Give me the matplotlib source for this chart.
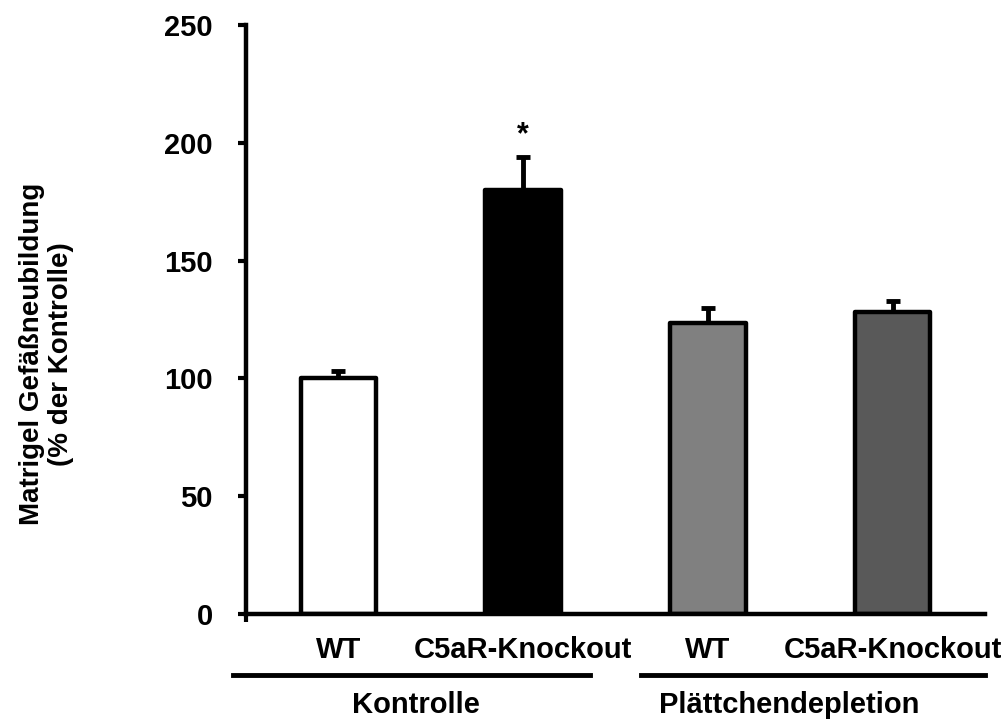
import numpy as np
import matplotlib
matplotlib.use("Agg")
import matplotlib.pyplot as plt
from matplotlib.transforms import blended_transform_factory
from matplotlib.lines import Line2D

plt.rcParams['font.family'] = ['Liberation Sans', 'DejaVu Sans']
plt.rcParams['font.weight'] = 'bold'

categories = ["WT", "C5aR-Knockout", "WT", "C5aR-Knockout"]
values = [100, 180, 123.5, 128]
errors = [3, 14, 6.5, 5]
colors = ["#ffffff", "#000000", "#808080", "#595959"]
groups = ["Kontrolle", "Plättchendepletion"]
group_spans = [(-0.57, 1.36), (1.64, 3.5)]
group_label_x = [0.42, 2.44]
yticks = [0, 50, 100, 150, 200, 250]

fig = plt.figure(figsize=(10.08, 7.2), dpi=100)
ax = fig.add_axes([246/1008, 1-614/720, (985-246)/1008, (614-25)/720])

x = np.arange(len(values))
ax.bar(x, values, width=0.41, color=colors, edgecolor="black", linewidth=3.2,
       joinstyle="round", zorder=2)
ax.errorbar(x, values, yerr=[np.zeros(len(errors)), errors], fmt="none",
            ecolor="black", elinewidth=3.5, capsize=5, capthick=3.5, zorder=1)

ax.text(x[1], values[1] + errors[1] + 3, "*", ha="center", va="bottom", fontsize=22)

ax.set_xlim(-0.5, 3.5)
ax.set_ylim(0, 250)
ax.set_yticks(yticks)
ax.set_xticks([-0.5])
ax.set_xticklabels([""])
ax.tick_params(axis="y", direction="out", length=6, width=3, labelsize=21, pad=18)
ax.tick_params(axis="x", direction="out", length=6, width=3)
for s in ["top", "right"]:
    ax.spines[s].set_visible(False)
for s in ["left", "bottom"]:
    ax.spines[s].set_linewidth(3.2)

tr = blended_transform_factory(ax.transData, fig.transFigure)
for xi, lab in zip(x, categories):
    ax.text(xi, 1-650/720, lab, transform=tr, ha="center", va="center", fontsize=21)
for (a, b), gx, g in zip(group_spans, group_label_x, groups):
    fig.add_artist(Line2D([a, b], [1-675/720, 1-675/720], transform=tr,
                          color="black", linewidth=3.5))
    ax.text(gx, 1-705/720, g, transform=tr, ha="center", va="center", fontsize=21)

fig.text(0.046, 0.508, "Matrigel Gefäßneubildung\n(% der Kontrolle)", rotation=90,
         ha="center", va="center", fontsize=20, linespacing=1.15, multialignment="center")

fig.savefig("out.png", dpi=100)
